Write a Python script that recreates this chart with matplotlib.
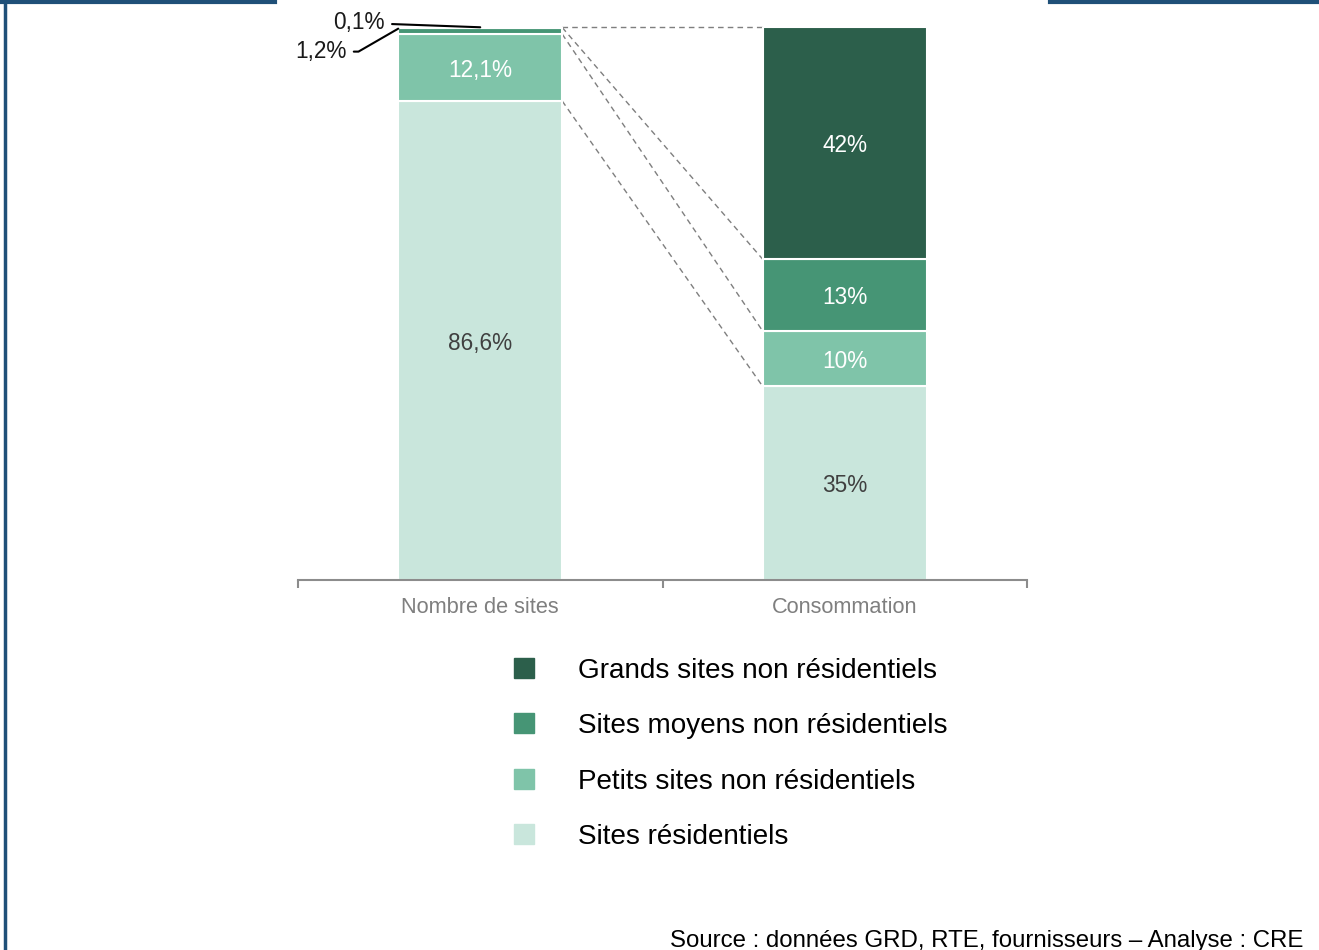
import matplotlib
matplotlib.use("Agg")
import matplotlib.pyplot as plt
from matplotlib.patches import Rectangle
from matplotlib.lines import Line2D

plt.rcParams['font.family'] = ['Liberation Sans', 'DejaVu Sans']

categories = ["Nombre de sites", "Consommation"]
series = ["Sites résidentiels", "Petits sites non résidentiels",
          "Sites moyens non résidentiels", "Grands sites non résidentiels"]
nombre_sites = [86.6, 12.1, 1.2, 0.1]
consommation = [35, 10, 13, 42]
labels_sites = ["86,6%", "12,1%", "1,2%", "0,1%"]
labels_conso = ["35%", "10%", "13%", "42%"]
colors = ["#c9e6dc", "#7fc4a9", "#469575", "#2c5f4b"]
text_colors = ["#404040", "white", "white", "white"]
source = "Source : données GRD, RTE, fournisseurs – Analyse : CRE"

W, H = 1319, 950
fig = plt.figure(figsize=(W / 100, H / 100), dpi=100)
ax = fig.add_axes([298 / W, 1 - 580 / H, (1027 - 298) / W, (580 - 27) / H])

bw = 0.45
bottoms = [0.0, 0.0]
data = [nombre_sites, consommation]
labs = [labels_sites, labels_conso]
for s in range(len(series)):
    for c in range(2):
        v = data[c][s]
        ax.bar(c, v, bw, bottom=bottoms[c], color=colors[s],
               edgecolor="white", linewidth=1.5, zorder=2)
        if v >= 5:
            ax.text(c, bottoms[c] + v / 2, labs[c][s], ha="center", va="center_baseline",
                    fontsize=16.3, color=text_colors[s])
        bottoms[c] += v

# dashed connector lines
cum_l = [0]
cum_r = [0]
for s in range(len(series)):
    cum_l.append(cum_l[-1] + nombre_sites[s])
    cum_r.append(cum_r[-1] + consommation[s])
for yl, yr in zip(cum_l[1:], cum_r[1:]):
    ax.plot([bw / 2, 1 - bw / 2], [min(yl, 100), min(yr, 100)], ls=(0, (4, 3)),
            color="#7f7f7f", lw=1, zorder=1, clip_on=False)

# annotations for small values
top_small = cum_l[3] + nombre_sites[3] / 2
ax.annotate(labels_sites[3], xy=(0, top_small), xytext=(-0.261, 101.2),
            ha="right", va="center_baseline", fontsize=16.3, color="#1a1a1a",
            arrowprops=dict(arrowstyle="-", color="black", lw=1.5,
                            shrinkA=3, shrinkB=0), annotation_clip=False)
ax.annotate(labels_sites[2], xy=(-bw / 2, cum_l[3] - 0.2), xytext=(-0.366, 96.0),
            ha="right", va="center_baseline", fontsize=16.3, color="#1a1a1a",
            arrowprops=dict(arrowstyle="-", color="black", lw=1.5,
                            shrinkA=3, shrinkB=0,
                            connectionstyle="angle,angleA=0,angleB=30,rad=0"),
            annotation_clip=False)

ax.set_xlim(-0.5, 1.5)
ax.set_ylim(0, 100)
for sp in ["top", "right", "left"]:
    ax.spines[sp].set_visible(False)
ax.spines["bottom"].set_color("#8c8c8c")
ax.spines["bottom"].set_linewidth(1.5)
ax.set_yticks([])
ax.set_xticks([-0.5, 0.5, 1.5])
ax.set_xticklabels([])
ax.tick_params(axis="x", which="major", length=6, width=1.5, color="#8c8c8c")
ax.set_xticks([0, 1], minor=True)
ax.set_xticklabels(categories, minor=True, fontsize=15.7, color="#7f7f7f")
ax.tick_params(axis="x", which="minor", length=0, pad=12)

# legend (manual)
legend_order = [3, 2, 1, 0]
for i, s in enumerate(legend_order):
    yc = 668 + 55.3 * i
    fig.patches.append(Rectangle((514 / W, 1 - (yc + 10) / H), 20 / W, 20 / H,
                                 transform=fig.transFigure, color=colors[s]))
    fig.text(578 / W, 1 - yc / H, series[s], ha="left", va="center_baseline",
             fontsize=20.1, color="black")

fig.text(1303 / W, 1 - 938 / H, source, ha="right", va="center_baseline",
         fontsize=17.3, color="black")

# frame lines
frame_c = "#1f5078"
fig.add_artist(Line2D([0, 275 / W], [1 - 1.5 / H, 1 - 1.5 / H], color=frame_c,
                      lw=3, transform=fig.transFigure))
fig.add_artist(Line2D([1050 / W, 1], [1 - 1.5 / H, 1 - 1.5 / H], color=frame_c,
                      lw=3, transform=fig.transFigure))
fig.add_artist(Line2D([5 / W, 5 / W], [0, 1], color=frame_c,
                      lw=2.5, transform=fig.transFigure))

fig.savefig("out.png", dpi=100)
